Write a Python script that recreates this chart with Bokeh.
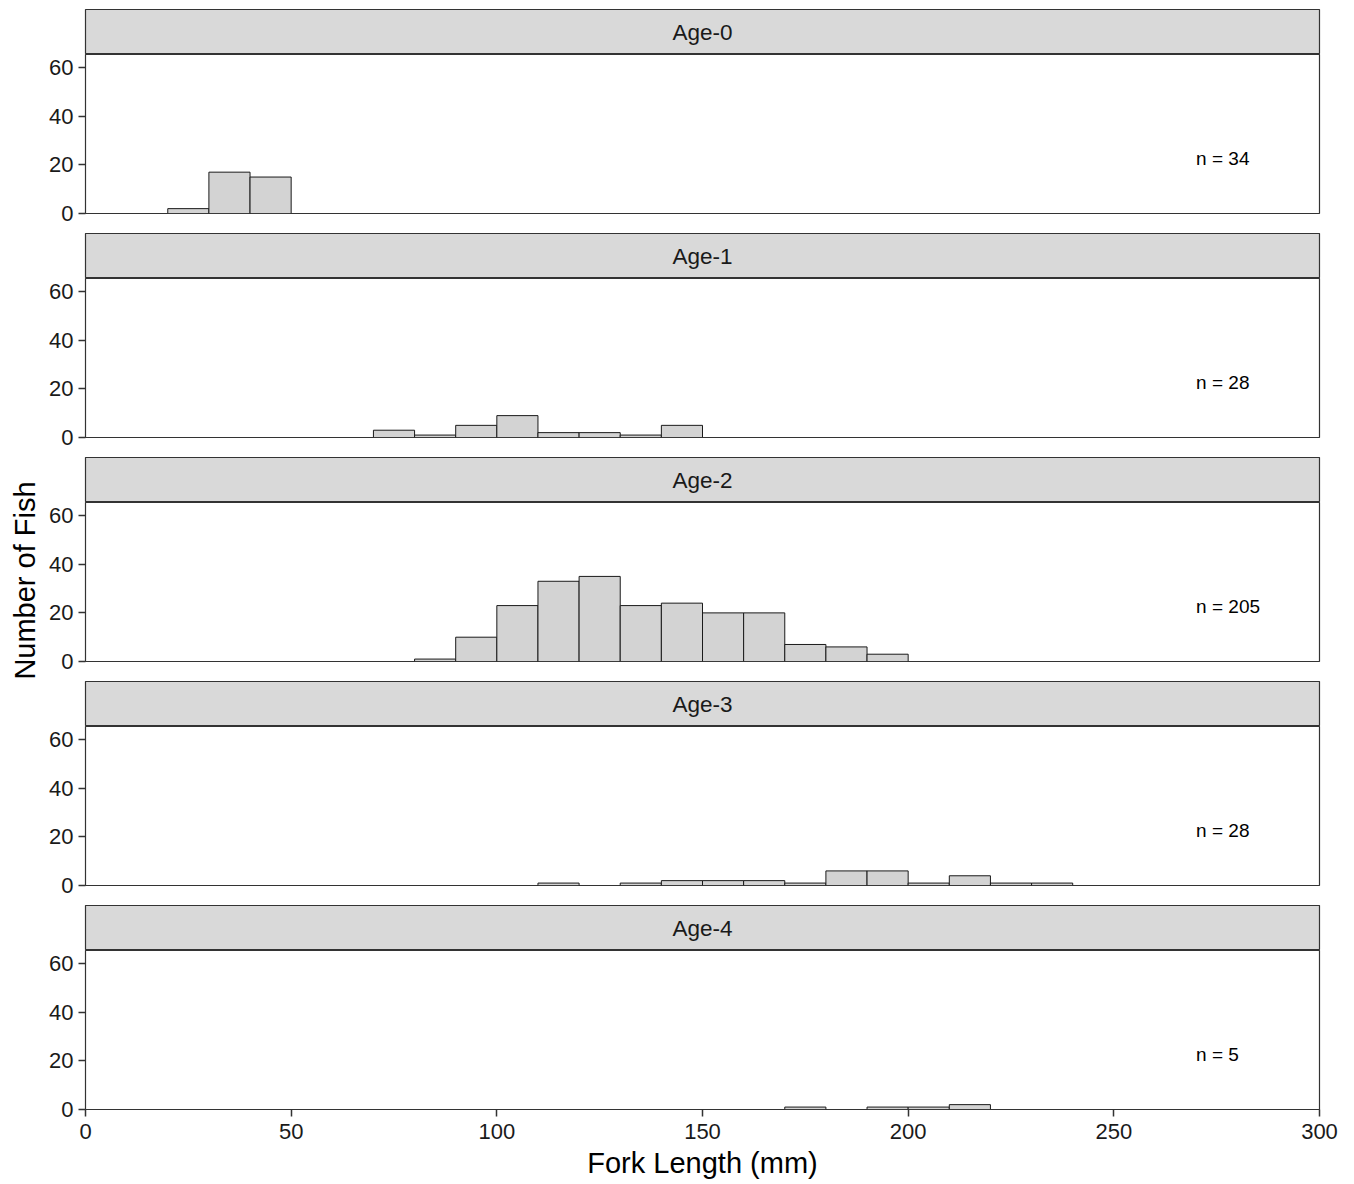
import math
from bokeh.plotting import figure
from bokeh.layouts import column, row
from bokeh.models import Range1d, FixedTicker
from bokeh.core.properties import value
from bokeh.embed import file_html
from bokeh.resources import INLINE

# ---- data (10 mm bins, left edges and counts) ----
ages = ["Age-0", "Age-1", "Age-2", "Age-3", "Age-4"]
age0_left = [20, 30, 40]
age0_count = [2, 17, 15]
age1_left = [70, 80, 90, 100, 110, 120, 130, 140]
age1_count = [3, 1, 5, 9, 2, 2, 1, 5]
age2_left = [80, 90, 100, 110, 120, 130, 140, 150, 160, 170, 180, 190]
age2_count = [1, 10, 23, 33, 35, 23, 24, 20, 20, 7, 6, 3]
age3_left = [110, 130, 140, 150, 160, 170, 180, 190, 200, 210, 220, 230]
age3_count = [1, 1, 2, 2, 2, 1, 6, 6, 1, 4, 1, 1]
age4_left = [170, 190, 200, 210]
age4_count = [1, 1, 1, 2]
bin_width = 10
n_labels = ["n = 34", "n = 28", "n = 205", "n = 28", "n = 5"]
x_ticks = [0, 50, 100, 150, 200, 250, 300]
y_ticks = [0, 20, 40, 60]
x_title = "Fork Length (mm)"
y_title = "Number of Fish"

lefts = [age0_left, age1_left, age2_left, age3_left, age4_left]
counts = [age0_count, age1_count, age2_count, age3_count, age4_count]

FONT = "Liberation Sans"
FRAME_W = 1234
LABEL_W = 45
LEFT = 40
RIGHT = 30
STRIP_H = 45
PANEL_H = 159
GAP = 20
TOP = 9
BOTTOM = 74
TOTAL_H = TOP + len(ages) * (STRIP_H + PANEL_H) + (len(ages) - 1) * GAP + BOTTOM

x_range = Range1d(0, 300)
children = []
for i, age in enumerate(ages):
    # strip
    s = figure(frame_width=FRAME_W, frame_height=STRIP_H, output_backend="svg",
               toolbar_location=None, x_axis_location=None, y_axis_location=None,
               x_range=Range1d(0, 1), y_range=Range1d(0, 1),
               min_border_left=LEFT, min_border_right=RIGHT,
               min_border_top=TOP if i == 0 else 0, min_border_bottom=0)
    s.grid.visible = False
    s.background_fill_color = "#d9d9d9"
    s.border_fill_color = "white"
    s.outline_line_color = "#333333"
    s.outline_line_width = 1.2
    s.text(x=[0.5], y=[0.5], text=[age], text_align="center", text_baseline="middle",
           text_font=value(FONT), text_font_size="22.5px", text_color="#1a1a1a")
    children.append(s)

    last = i == len(ages) - 1
    p = figure(frame_width=FRAME_W, frame_height=PANEL_H, output_backend="svg",
               toolbar_location=None, x_range=x_range, y_range=Range1d(0, 65.4),
               x_axis_location="below" if last else None,
               min_border_left=LEFT, min_border_right=RIGHT,
               min_border_top=0, min_border_bottom=BOTTOM if last else GAP)
    p.grid.visible = False
    p.outline_line_color = "#333333"
    p.outline_line_width = 1.2
    p.background_fill_color = "white"
    p.quad(left=lefts[i], right=[l + bin_width for l in lefts[i]], bottom=0, top=counts[i],
           fill_color="#d3d3d3", line_color="#1a1a1a", line_width=1)
    p.text(x=[270], y=[22.5], text=[n_labels[i]], text_align="left", text_baseline="middle",
           text_font=value(FONT), text_font_size="19px", text_color="black")

    ya = p.yaxis[0]
    ya.ticker = FixedTicker(ticks=y_ticks)
    ya.axis_line_color = None
    ya.major_tick_line_color = "#333333"
    ya.major_tick_line_width = 1.5
    ya.major_tick_in = 0
    ya.major_tick_out = 7
    ya.minor_tick_line_color = None
    ya.major_label_text_font = FONT
    ya.major_label_text_font_size = "22px"
    ya.major_label_text_color = "#1a1a1a"
    ya.major_label_standoff = 5

    if last:
        xa = p.xaxis[0]
        xa.ticker = FixedTicker(ticks=x_ticks)
        xa.axis_line_color = None
        xa.major_tick_line_color = "#333333"
        xa.major_tick_line_width = 1.5
        xa.major_tick_in = 0
        xa.major_tick_out = 7
        xa.minor_tick_line_color = None
        xa.major_label_text_font = FONT
        xa.major_label_text_font_size = "22px"
        xa.major_label_text_color = "#1a1a1a"
        xa.major_label_standoff = 7
        xa.axis_label = x_title
        xa.axis_label_text_font = FONT
        xa.axis_label_text_font_size = "29px"
        xa.axis_label_text_font_style = "normal"
        xa.axis_label_text_color = "black"
        xa.axis_label_standoff = 5
    children.append(p)

# y-axis title figure (shared label for all panels)
lab = figure(frame_width=LABEL_W, frame_height=TOTAL_H, output_backend="svg",
             toolbar_location=None, x_axis_location=None, y_axis_location=None,
             x_range=Range1d(0, LABEL_W), y_range=Range1d(TOTAL_H, 0),
             min_border=0)
lab.grid.visible = False
lab.outline_line_color = None
lab.text(x=[24], y=[580], text=[y_title], angle=math.pi / 2,
         text_align="center", text_baseline="middle",
         text_font=value(FONT), text_font_size="29px", text_color="black")

layout = row(lab, column(*children, spacing=0), spacing=0)
open("out.html", "w").write(file_html(layout, INLINE))
